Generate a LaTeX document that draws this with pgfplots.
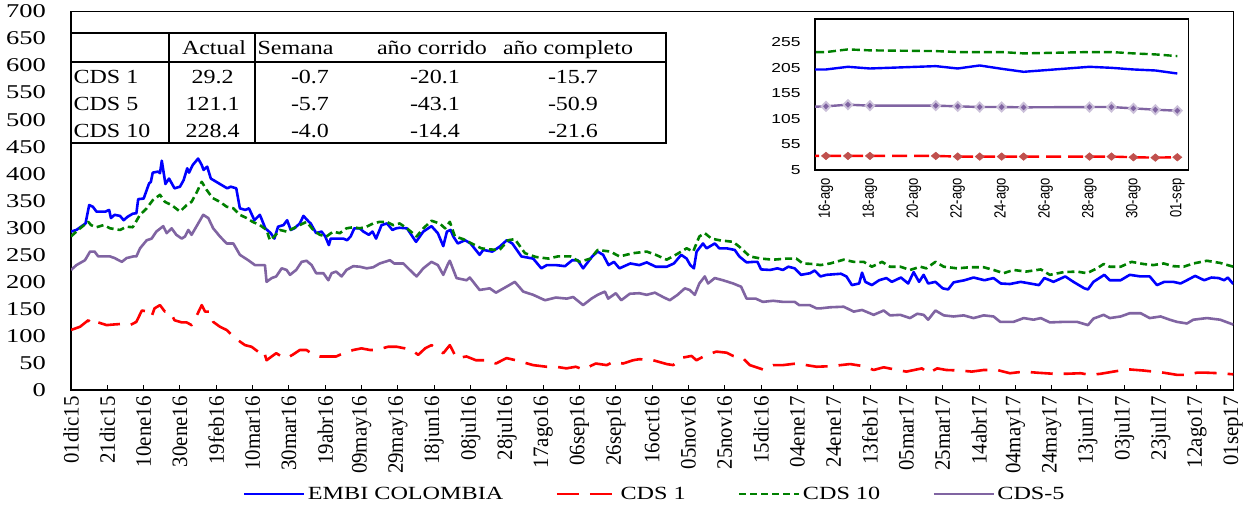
\documentclass[border=0pt]{standalone}
\usepackage{fontspec}
\setmainfont{Liberation Serif}
\newfontfamily\tabfont{Liberation Serif}[FakeStretch=1.2]
\newfontfamily\ytfont{Liberation Serif}[FakeStretch=1.36]
\newfontfamily\xtfont{Liberation Serif}[FakeStretch=0.95]
\newfontfamily\legfont{Liberation Serif}[FakeStretch=1.3]
\newfontfamily\isyfont{Liberation Sans}[FakeStretch=1.34]
\newfontfamily\isxfont{Liberation Sans}[FakeStretch=0.8]
\usepackage{pgfplots}
\usepackage{pgfplotstable}
\pgfplotsset{compat=1.18}
\definecolor{embi}{HTML}{0000FF}
\definecolor{cdsone}{HTML}{FF0000}
\definecolor{cdsten}{HTML}{008000}
\definecolor{cdsfive}{HTML}{8064A2}
\definecolor{mkred}{HTML}{C0504D}
\definecolor{halo}{HTML}{CCC1DA}

% day = days since 01dic15
\pgfplotstableread{
d v
0 293
3 296
8 308
10 342
12 339
14 330
16 330
19 330
21 333
22 318
24 324
27 322
29 314
31 320
34 326
36 327
37 353
40 354
43 382
44 385
45 402
48 404
49 401
50 424
52 381
54 391
55 385
57 373
60 376
62 388
64 410
65 402
67 416
70 428
72 416
73 407
75 413
77 391
80 385
83 379
86 373
88 376
91 373
93 336
96 333
98 336
101 314
104 324
107 299
110 290
112 280
114 302
117 305
119 314
121 296
123 299
126 308
128 322
131 311
132 308
135 290
138 293
140 284
142 268
143 280
146 280
150 280
152 277
154 284
156 299
159 299
161 293
164 287
166 293
168 280
171 305
174 308
177 296
179 299
181 300
185 299
190 274
194 293
198.5 303
202 290
205 266
207 293
209 296
210.5 284
213 271
217 277
220 271
225 250
227 259
232 256
236 265
240 277
243 271
248 247
254.5 243
259 225
262 231
267 231
272 229
276 240
279 240
282 225
287 247
290 256
293 250
296 231
299 237
302 225
308 234
313 231
317 236
322 228
328 228
332 234
336 250
339 243
341 231
343 225
344.5 256
348 271
350 262
354.5 271
357 262
361 262
365.5 259
368 247
372 236
376 237
378 237
380 223
385 222
389 225
392 222
395 228
398.5 225
402 213
407 216
409.5 221
412.7 210
416 213
424 215
427 210
430 194
434 197
435.6 217
437.4 200
441 194
445 203
449 207
452 200
457 208
461 197
464 218
467 200
469.5 213
472 197
476 200
480 188
483 186
486 199
492 203
497 208
503 203
508 207
512 197
517 196
523 200
528 197
533 194
536 207
539 203
541 200
547.5 210
552 200
558 188
560 186
563 200
569 213
572 203
578 203
583 213
589 210
594 210
598 194
602 200
607 200
611 197
614.5 203
619 211
624 203
628 208
632 207
635 203
637 208
640 196
}\embidata

\pgfplotstableread{
d v
0 111
5 117
9.5 129
12 120
15 125
19.6 120
23 121
27 122
32.5 120
36 126
39 147
42.6 145
44.4 136
46 151
49 157
51.7 145
54.5 145
57 129
61 125
63.7 125
66.4 120
69 136
72 157
73.8 145
76.5 145
78.3 126
82 117
85.7 111
89.4 99
92 92
95.8 83
99.4 80
103 71
106 74
107.7 55
110.5 62
113 68
116 62
118.7 59
122 65
126 74
129.7 74
133.4 65
137 62
141.7 62
146 62
150 68
155.4 74
160 77
164.6 74
168 74
174.7 80
179.3 80
183.9 77
187.5 74
191.2 65
195 77
198.5 83
205 68
208.6 83
212.3 59
217.8 62
223 55
228.8 55
234 49
239.8 59
245 55
254.5 46
261.8 43
267 43
272.8 40
278 43
282 38
289 49
295 46
298.5 52
304 49
309.5 55
313 57
320.6 55
328 48
331.6 46
337 60
341.7 63
344.4 55
350 65
355.4 71
361 69
364.6 63
370 59
373.8 46
381 38
386.6 46
392 46
399.4 49
405 46
410.5 43
418 44
423.7 46
429 48
436.5 44
442 37
447.5 42
455 37
460 34
468.6 40
472 31
477 40
482 37
490 36
496 34
502.6 37
510 37
517 31
524.6 34
532 32
541 30
548 30
556 31
561 28
567 30
574 34
579.6 37
583 38
590.6 36
596 34
601.7 32
609 28
614.5 28
620 32
625.5 32
632.8 31
640 29
}\cdsonedata

\pgfplotstableread{
d v
0 284
5 299
9.5 311
11 305
14 301
18 305
21.5 299
27 296
30.6 302
34 301
38 324
41.7 336
45 351
49 361
51.7 348
55.4 342
60 330
63.7 342
66.4 348
69 364
72 385
74.7 370
78 355
82 348
85.7 339
89.4 336
93 324
96.7 318
100 311
104 305
107.7 296
109.5 277
112 284
115 296
118.7 293
122.4 299
126 305
129.7 311
133.4 296
137 287
140.7 284
144.4 293
148 290
151.7 299
155.4 301
159 299
162.8 302
166.4 308
170 311
173.8 311
177.4 305
181 308
185 299
190.3 284
194 299
198.5 313
203 308
206 299
208.6 311
211.4 284
216 279
220.6 271
226 262
230.6 260
236 259
240.7 277
244.4 279
250 253
256 246
263 243
268 247
275 247
280 237
286 243
290 259
297 256
302 247
309.5 253
317 256
322 250
328 241
333 250
339 262
342.6 256
346 284
349 290
352.7 280
357 277
364.6 274
368 265
373.8 247
380 243
386.6 241
394 243
399.4 243
403 234
408.6 233
412.7 231
418 234
425.5 241
431 237
436.5 237
441 228
446.6 237
451 228
456.7 228
462 222
467.7 228
471 225
476 237
480.6 228
488 225
495 227
502.6 227
508 222
513.6 216
519 222
526 219
534 223
539 213
546.6 218
554 219
559.4 216
565 225
568.6 233
572 228
578 228
584 237
590.6 233
596 231
601.7 234
607 229
612.7 228
618 234
625.5 239
632.8 235
640 228
}\cdstendata

\pgfplotstableread{
d v
0 222
3 231
7.7 240
10.5 256
13 256
15 247
18 247
21.5 247
24 244
28 237
30.6 244
34.3 247
36 247
38 262
41.7 277
44.4 280
47 293
50.8 303
52.7 290
55.4 299
58 287
61 280
62.8 284
64.6 296
66.4 287
69 302
72.8 324
75.6 318
78.3 299
82 284
85.7 271
89.4 271
93 250
97.6 240
101.3 231
105 231
106.8 231
107.7 200
110.5 207
113 210
116 225
118.7 222
120.6 213
124 222
127 237
129.7 239
132.5 231
135 216
139 216
141.7 203
143.5 216
146 219
149 210
151.7 222
155.4 229
159 228
162.8 225
166.4 227
170 234
175.6 240
178 234
183 234
186.6 222
190.3 210
194 225
198.5 237
202 231
205 213
207.7 234
208.6 239
212.3 207
217.8 203
219.6 208
225 185
230.6 188
234 180
239.8 191
244.4 200
249 182
254.5 176
261 166
267 171
273 169
276.5 172
282 157
286.6 169
290 176
294 182
295.8 169
300 179
303 166
307.7 178
313 179
317 176
321.5 180
326 172
329.7 166
334 176
338 188
340.7 185
343.5 176
346 197
349 210
350.8 197
354.5 207
359 203
364.6 197
369 191
372 169
377 169
381 163
386.6 165
392 163
398.5 163
401 157
406.8 157
410.5 151
412.7 151
418 153
425.5 154
431 145
435.6 148
442 139
447.5 147
451 138
456.7 139
462 133
466 141
469.5 139
472 130
476 147
480.6 138
486 136
491.6 138
497 133
502.6 138
508 136
511.7 126
519 126
524.6 133
530 130
534 133
539 125
546.6 126
554 126
560 120
563 132
568.6 139
572 133
578 136
583 142
589 142
594 133
600 136
605 130
609 126
614.5 123
618 130
625.5 133
632.8 130
640 121
}\cdsfivedata

% inset: day 0 = 16-ago
\pgfplotstableread{
d embi cone cten cfive
-1 201.4 32.5 235.0 128.0
0 201.4 32.5 235.4 129.4
1 206.6 32.5 240.6 132.6
2 203.3 32.5 238.7 130.7
5 207.9 32.5 237.3 130.7
6 203.3 31.2 235.4 129.4
7 209.2 31.2 235.4 128.0
8 202.7 31.2 235.4 128.0
9 196.8 31.2 232.8 127.4
12 206.6 31.2 235.4 128.0
13 204.6 31.2 235.4 128.0
14 201.4 29.9 232.8 125.4
15 199.4 29.2 230.8 122.8
16 193.5 29.9 227.5 120.8
}\insetdata

\begin{document}
\begin{tikzpicture}
\path[use as bounding box, fill=white] (0,0) rectangle (1256bp,506bp);

\begin{axis}[
  at={(71bp,116bp)}, anchor=south west, scale only axis,
  width=1162.3bp, height=378.5bp,
  xmin=0, xmax=640, ymin=0, ymax=700,
  axis line style={line width=1.3bp},
  xtick={0,20,...,640},
  xticklabels={01dic15,21dic15,10ene16,30ene16,19feb16,10mar16,30mar16,19abr16,09may16,29may16,18jun16,08jul16,28jul16,17ago16,06sep16,26sep16,16oct16,05nov16,25nov16,15dic16,04ene17,24ene17,13feb17,05mar17,25mar17,14abr17,04may17,24may17,13jun17,03jul17,23jul17,12ago17,01sep17},
  xtick pos=bottom, ytick pos=left,
  xtick align=inside, major tick length=5bp,
  xtick style={black, line width=1bp},
  ytick={0,50,...,700}, ytick style={draw=none},
  /pgf/number format/assume math mode=true,
  yticklabel style={font=\ytfont\fontsize{19.5bp}{20bp}\selectfont, inner sep=0pt, anchor=east},
  yticklabel shift=25bp,
  xticklabel style={font=\xtfont\fontsize{22bp}{22bp}\selectfont, rotate=90, anchor=east, inner sep=0pt},
  xticklabel shift=6bp,
  legend columns=4,
  legend style={at={(0.148,-0.2748)}, anchor=west, draw=none, fill=none,
    inner sep=0pt, font=\legfont\fontsize{18.6bp}{20bp}\selectfont,
    nodes={inner sep=2.5bp},
    /tikz/every even column/.append style={column sep=50bp}},
  legend cell align=left,
  legend image code/.code={\draw[#1, line width=2.2bp] (0bp,0bp) -- (60bp,0bp);},
  every axis plot/.append style={line join=round},
]
\addplot[embi, line width=2.6bp] table[x=d, y=v] {\embidata};
\addlegendentry{EMBI COLOMBIA}
\addplot[cdsone, line width=2.6bp, dash pattern=on 22bp off 11bp] table[x=d, y=v] {\cdsonedata};
\addlegendentry{CDS 1}
\addplot[cdsten, line width=2.6bp, dash pattern=on 7bp off 4bp] table[x=d, y=v] {\cdstendata};
\addlegendentry{CDS 10}
\addplot[cdsfive, line width=2.6bp] table[x=d, y=v] {\cdsfivedata};
\addlegendentry{CDS-5}
\end{axis}

\begin{axis}[
  at={(815bp,336bp)}, anchor=south west, scale only axis,
  width=373.3bp, height=151bp,
  xmin=-0.5, xmax=16.5, ymin=5, ymax=300,
  axis line style={line width=1.3bp},
  xtick={0,2,...,16},
  xticklabels={16-ago,18-ago,20-ago,22-ago,24-ago,26-ago,28-ago,30-ago,01-sep},
  ytick={5,55,...,255},
  tick style={draw=none},
  /pgf/number format/assume math mode=true,
  yticklabel style={font=\isyfont\fontsize{13bp}{14bp}\selectfont, inner sep=0pt, anchor=east},
  yticklabel shift=14.3bp,
  xticklabel style={font=\isxfont\fontsize{16.2bp}{17bp}\selectfont, rotate=90, anchor=east, inner sep=0pt},
  xticklabel shift=8bp,
  clip marker paths=true,
]
\addplot[cdsten, line width=2.4bp, dash pattern=on 8bp off 4bp, forget plot] table[x=d, y=cten] {\insetdata};
\addplot[embi, line width=2.4bp, forget plot] table[x=d, y=embi] {\insetdata};
\addplot[cdsfive, line width=2.4bp, mark=diamond*, mark size=4.5bp,
  mark options={solid, fill=cdsfive, draw=halo, line width=1.8bp, xscale=1.3}, forget plot]
  table[x=d, y=cfive] {\insetdata};
\addplot[cdsone, line width=2.4bp, dash pattern=on 15bp off 7bp, mark=diamond*, mark size=3.8bp,
  mark options={solid, fill=mkred, draw=mkred, line width=0.5bp, xscale=1.6}, forget plot]
  table[x=d, y=cone] {\insetdata};
\end{axis}

\begin{scope}[x=1bp, y=-1bp, yshift=506bp, line width=1.3bp]
\draw (71,33) -- (666,33) -- (666,143) -- (71,143);
\draw (71,62) -- (666,62);
\draw (169,33) -- (169,143);
\draw (255,33) -- (255,143);
\begin{scope}[every node/.style={inner sep=0pt, font=\tabfont\fontsize{20bp}{24bp}\selectfont}]
\node[anchor=base] at (214,54.3) {Actual};
\node[anchor=base west] at (257,54.3) {Semana};
\node[anchor=base] at (432,54.3) {año corrido};
\node[anchor=base] at (568,54.3) {año completo};
\node[anchor=base west] at (73,83.5) {CDS 1};
\node[anchor=base west] at (73,110.5) {CDS 5};
\node[anchor=base west] at (73,137.5) {CDS 10};
\node[anchor=base] at (212.5,83.5) {29.2};
\node[anchor=base] at (212.5,110.5) {121.1};
\node[anchor=base] at (212.5,137.5) {228.4};
\node[anchor=base] at (310,83.5) {-0.7};
\node[anchor=base] at (310,110.5) {-5.7};
\node[anchor=base] at (310,137.5) {-4.0};
\node[anchor=base] at (435,83.5) {-20.1};
\node[anchor=base] at (435,110.5) {-43.1};
\node[anchor=base] at (435,137.5) {-14.4};
\node[anchor=base] at (573,83.5) {-15.7};
\node[anchor=base] at (573,110.5) {-50.9};
\node[anchor=base] at (573,137.5) {-21.6};
\end{scope}
\end{scope}
\end{tikzpicture}
\end{document}
